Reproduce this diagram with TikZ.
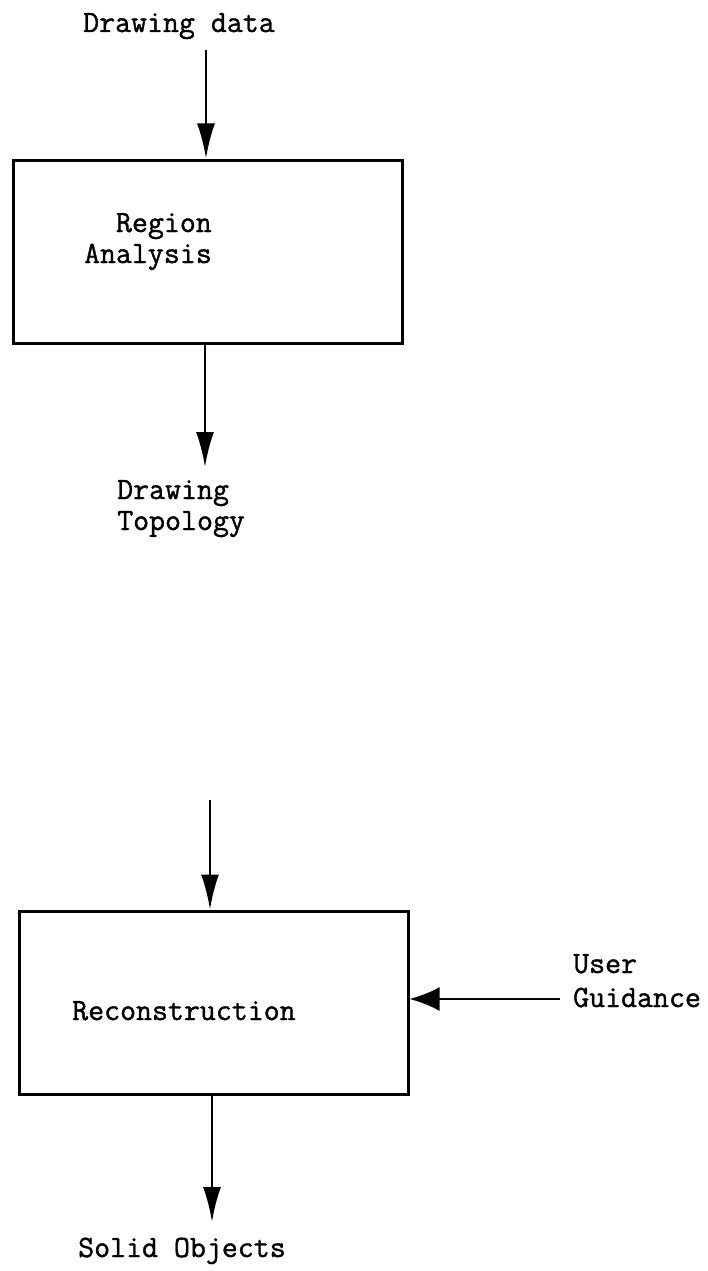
\documentclass[tikz,border=0pt]{standalone}
\usepackage{fontspec}
\setmonofont{Latin Modern Mono}[FakeBold=1.2]
\usetikzlibrary{arrows.meta}
\begin{document}
\begin{tikzpicture}[x=1pt,y=-1pt,
  box/.style={draw, line width=3pt, minimum width=389pt, minimum height=183pt, inner sep=0pt},
  lbl/.style={inner sep=0pt, font=\fontsize{31}{31}\ttfamily},
  flow/.style={line width=2.5pt, -{Latex[length=35pt,width=18pt]}},
  sideflow/.style={line width=2.5pt, -{Latex[length=30pt,width=24pt]}}]
\useasboundingbox (0,0) rectangle (708,1271);
% boxes
\node[box] (box1) at (207.5,251.5) {};
\node[box] (box2) at (213.5,1002.5) {};
% texts
\node[lbl, anchor=base west] (indata) at (83,32) {Drawing data};
\node[lbl, anchor=base east, align=right] (ra) at (212,263) {Region\\Analysis};
\node[lbl, anchor=base west, align=left] (topo) at (117,530) {Drawing\\Topology};
\node[lbl, anchor=base west] (rec) at (72,1020) {Reconstruction};
\node[lbl, anchor=base west, align=left, font=\fontsize{31}{34}\ttfamily] (ug) at (573,1007) {User\\Guidance};
\node[lbl, anchor=base west] (solid) at (78,1257) {Solid Objects};
% connector end points
\coordinate (s1) at (206,50);
\coordinate (t1) at (205,467);
\coordinate (s2) at (210,800);
\coordinate (e2) at (212,1222);
\coordinate (ugs) at (560,999);
% connectors
\draw[flow] (s1) -- (s1 |- box1.north);
\draw[flow] (t1 |- box1.south) -- (t1);
\draw[flow] (s2) -- (s2 |- box2.north);
\draw[flow] (e2 |- box2.south) -- (e2);
\draw[sideflow] (ugs) -- (ugs -| box2.east);
\end{tikzpicture}
\end{document}
